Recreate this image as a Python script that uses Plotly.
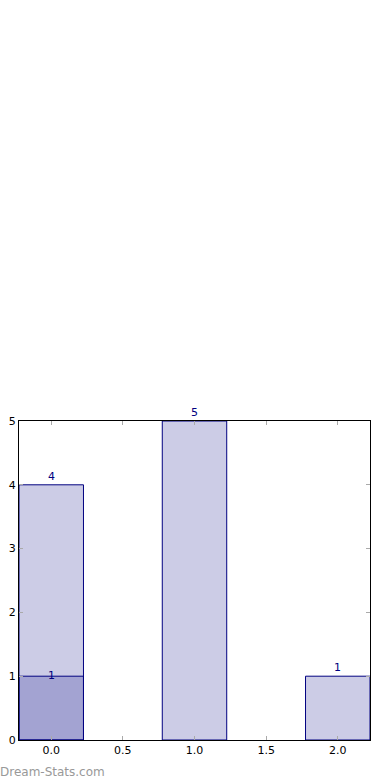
import plotly.graph_objects as go

x_main = [0.0, 1.0, 2.0]
y_main = [4, 5, 1]
x_overlay = [0.0]
y_overlay = [1]
x_ticks = [0.0, 0.5, 1.0, 1.5, 2.0]
y_ticks = [0, 1, 2, 3, 4, 5]

fill = "rgba(0,0,128,0.2)"
edge = "#000080"

fig = go.Figure()
fig.add_trace(go.Bar(x=x_main, y=y_main, width=0.45,
                     marker=dict(color=fill, line=dict(color=edge, width=1))))
fig.add_trace(go.Bar(x=x_overlay, y=y_overlay, width=0.45,
                     marker=dict(color=fill, line=dict(color=edge, width=1))))

for xv, yv in zip(x_main, y_main):
    fig.add_annotation(x=xv, y=yv, text=str(yv), showarrow=False,
                       yanchor="bottom", yshift=0,
                       font=dict(family="DejaVu Sans", size=11, color=edge))
for xv, yv in zip(x_overlay, y_overlay):
    fig.add_annotation(x=xv, y=yv, text=str(yv), showarrow=False,
                       yanchor="middle", yshift=1,
                       font=dict(family="DejaVu Sans", size=11, color=edge))

fig.add_annotation(x=0, y=0, xref="paper", yref="paper", xanchor="left", yanchor="bottom",
                   text="Dream-Stats.com", showarrow=False, xshift=-21, yshift=-41,
                   font=dict(family="DejaVu Sans", size=12, color="#999999"))

axis_common = dict(showline=True, linecolor="black", linewidth=1, mirror="allticks",
                   ticks="inside", ticklen=4, tickcolor="#aaaaaa", showgrid=False,
                   zeroline=False, automargin=False,
                   tickfont=dict(family="DejaVu Sans", size=11, color="black"))

fig.update_layout(
    width=390, height=780, barmode="overlay", showlegend=False,
    margin=dict(l=19, r=20, t=421, b=40),
    plot_bgcolor="white", paper_bgcolor="white",
    xaxis=dict(range=[-0.225, 2.225], tickvals=x_ticks, ticktext=[f"{v:.1f}" for v in x_ticks],
               **axis_common),
    yaxis=dict(range=[0, 5], tickvals=y_ticks, **axis_common),
)

fig.write_html("out.html")
